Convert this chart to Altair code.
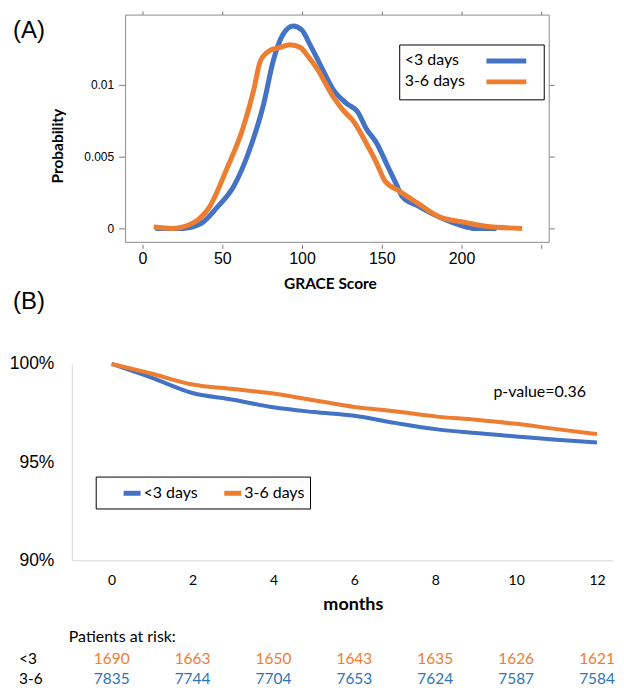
import altair as alt
import pandas as pd

# ---------------- Panel A: GRACE score distributions ----------------
groups = ["<3 days", "3-6 days"]
line_colors = ["#4472C4", "#ED7D31"]

grace_lt3_x = [8, 25, 36, 47, 57, 67.5, 76, 82, 88, 94.5, 100, 105, 111, 120, 128, 135, 140, 147, 153, 159, 163, 172, 182, 194.5, 203, 207, 222]
grace_lt3_y = [0.0, 0.0, 0.0003, 0.0015, 0.0029, 0.0056, 0.0087, 0.0117, 0.0135, 0.0141, 0.0138, 0.0128, 0.0115, 0.0096, 0.0087, 0.0081, 0.0070, 0.0059, 0.0045, 0.0031, 0.0022, 0.0016, 0.0010, 0.0004, 0.0001, 0.0, 0.0]

grace_36_x = [7, 19, 32, 42, 53, 63, 69.6, 74, 80, 86, 92.5, 99, 103, 109, 120, 126, 132, 140.5, 147, 152, 161, 172, 186, 203, 215, 238]
grace_36_y = [0.0001, 0.0, 0.0004, 0.0015, 0.0042, 0.0070, 0.0096, 0.0117, 0.0124, 0.0126, 0.0128, 0.0126, 0.0121, 0.0112, 0.0091, 0.0082, 0.0075, 0.0059, 0.0045, 0.0033, 0.0026, 0.0018, 0.0008, 0.0004, 0.00015, 0.0]

grace_ticks = [0, 50, 100, 150, 200, 250]
prob_ticks = [0, 0.005, 0.01]

# ---------------- Panel B: survival ----------------
months = list(range(13))
surv_lt3 = [100, 99.29, 98.52, 98.18, 97.79, 97.55, 97.36, 97.0, 96.68, 96.48, 96.31, 96.14, 96.0]
surv_36 = [100, 99.5, 98.95, 98.72, 98.49, 98.15, 97.81, 97.59, 97.33, 97.16, 96.95, 96.68, 96.43]
month_ticks = [0, 2, 4, 6, 8, 10, 12]
pct_ticks = [90, 95, 100]

risk_months = [0, 2, 4, 6, 8, 10, 12]
risk_lt3 = [1690, 1663, 1650, 1643, 1635, 1626, 1621]
risk_36 = [7835, 7744, 7704, 7653, 7624, 7587, 7584]
risk_colors = ["#ED7D31", "#2E75B6"]

SANS = "Liberation Sans"
HUM = "Lato"

# Panel A plot frame sits SHIFT px right of the shared column origin
SHIFT = 54
FRAME_W = 425
A_W = SHIFT + FRAME_W
A_H = 228

dens = pd.concat([
    pd.DataFrame({"score": grace_lt3_x, "prob": grace_lt3_y, "group": groups[0], "ord": 0}),
    pd.DataFrame({"score": grace_36_x, "prob": grace_36_y, "group": groups[1], "ord": 1}),
], ignore_index=True)

xA = alt.Scale(domain=[-10.625, 255], range=[SHIFT, A_W], nice=False, zero=False)
yA = alt.Scale(domain=[-0.000972, 0.014861], nice=False, zero=False)
colA = alt.Scale(domain=groups, range=line_colors)

x_bottom = alt.Axis(values=grace_ticks, orient="bottom", offset=2, tickSize=4, domain=False,
                    tickColor="#777777", labelFontSize=16, labelFont=SANS, labelPadding=2,
                    labelExpr="datum.value == 250 ? '' : datum.label",
                    title="GRACE Score", titleFont=HUM, titleFontSize=15.5, titleFontWeight="bold",
                    titlePadding=10, titleX=SHIFT + 205)
y_left = alt.Axis(values=prob_ticks, orient="left", offset=-SHIFT, tickSize=7, domain=False,
                  tickColor="#777777", labelFontSize=12, labelFont=SANS, labelPadding=5, format="~g",
                  title="Probability", titleFont=HUM, titleFontSize=15.5, titleFontWeight="bold",
                  titleX=-68, titleY=131, titleAngle=270, titleAlign="center", titleBaseline="middle")
x_top = alt.Axis(values=grace_ticks, orient="top", tickSize=4, domain=False, labels=False,
                 tickColor="#777777", title=None)
y_right = alt.Axis(values=prob_ticks, orient="right", tickSize=5, domain=False, labels=False,
                   tickColor="#777777", title=None)

one = pd.DataFrame({"k": [0]})
frameA = alt.Chart(one).mark_rect(fill="white", stroke="#8c8c8c", strokeWidth=1).encode(
    x=alt.value(SHIFT), x2=alt.value(A_W), y=alt.value(0), y2=alt.value(A_H))

linesA = alt.Chart(dens).mark_line(strokeWidth=5, interpolate="monotone").encode(
    x=alt.X("score:Q", scale=xA, axis=x_bottom),
    y=alt.Y("prob:Q", scale=yA, axis=y_left),
    color=alt.Color("group:N", scale=colA, legend=None),
    order="ord:Q",
    detail="group:N",
)
axesA = alt.Chart(dens).mark_line(strokeOpacity=0).encode(
    x=alt.X("score:Q", scale=xA, axis=x_top),
    y=alt.Y("prob:Q", scale=yA, axis=y_right),
    detail="group:N",
)

legA_layers = [
    alt.Chart(one).mark_rect(fill="white", stroke="black", strokeWidth=1).encode(
        x=alt.value(SHIFT + 275), x2=alt.value(SHIFT + 420), y=alt.value(30), y2=alt.value(85))
]
for i, (g, c) in enumerate(zip(groups, line_colors)):
    yy = 46 + 21 * i
    legA_layers.append(alt.Chart(one).mark_rule(strokeWidth=5, color=c).encode(
        x=alt.value(SHIFT + 362), x2=alt.value(SHIFT + 402), y=alt.value(yy)))
    legA_layers.append(alt.Chart(one).mark_text(align="left", baseline="middle", font=HUM,
                                                fontSize=16, color="black").encode(
        x=alt.value(SHIFT + 280), y=alt.value(yy - 1), text=alt.value(g)))

labelA = alt.Chart(one).mark_text(align="left", baseline="middle", font=SANS, fontSize=24,
                                  color="black").encode(x=alt.value(-59), y=alt.value(16),
                                                        text=alt.value("(A)"))
labelB = alt.Chart(one).mark_text(align="left", baseline="middle", font=SANS, fontSize=24,
                                  color="black").encode(x=alt.value(-59), y=alt.value(288),
                                                        text=alt.value("(B)"))

panelA = alt.layer(frameA, axesA, linesA, *legA_layers, labelA, labelB).resolve_axis(
    x="independent", y="independent").properties(width=A_W, height=A_H)

# ---------------- Panel B ----------------
surv = pd.concat([
    pd.DataFrame({"month": months, "surv": surv_lt3, "group": groups[0], "ord": 0}),
    pd.DataFrame({"month": months, "surv": surv_36, "group": groups[1], "ord": 1}),
], ignore_index=True)

xB = alt.Scale(domain=[-0.986, 12.395], nice=False, zero=False)
yB = alt.Scale(domain=[90, 100], nice=False, zero=False)
x_axB = alt.Axis(values=month_ticks, ticks=False, domainColor="#d9d9d9", labelFontSize=14,
                 labelFont=HUM, labelPadding=13, title="months", titleFont=HUM, titleFontSize=18,
                 titleFontWeight="bold", titlePadding=8, titleX=282)
y_axB = alt.Axis(values=pct_ticks, ticks=False, domainColor="#d9d9d9", labelFontSize=17.5,
                 labelFont=SANS, labelPadding=18, labelExpr="datum.value + '%'", title=None)
x_encB = alt.X("month:Q", scale=xB, axis=x_axB)

linesB = alt.Chart(surv).mark_line(strokeWidth=4, interpolate="monotone").encode(
    x=x_encB,
    y=alt.Y("surv:Q", scale=yB, axis=y_axB),
    color=alt.Color("group:N", scale=colA, legend=alt.Legend(
        orient="none", legendX=24, legendY=113, direction="horizontal", title=None,
        strokeColor="black", padding=5, symbolType="stroke", symbolStrokeWidth=5,
        symbolSize=290, symbolOffset=20, labelOffset=0, columnPadding=3,
        labelFont=HUM, labelFontSize=16, labelColor="black")),
    order="ord:Q",
    detail="group:N",
)

pval = alt.Chart(one).mark_text(align="left", baseline="middle", font=HUM, fontSize=16,
                                color="black").encode(x=alt.value(423), y=alt.value(28),
                                                      text=alt.value("p-value=0.36"))

ROW0, ROW1, ROW2 = 274, 296, 316
risk_df1 = pd.DataFrame({"month": risk_months, "n": risk_lt3})
risk_df2 = pd.DataFrame({"month": risk_months, "n": risk_36})
risk1 = alt.Chart(risk_df1).mark_text(font=HUM, fontSize=15.5, color=risk_colors[0],
                                      baseline="middle").encode(
    x=x_encB, y=alt.value(ROW1), text="n:Q")
risk2 = alt.Chart(risk_df2).mark_text(font=HUM, fontSize=15.5, color=risk_colors[1],
                                      baseline="middle").encode(
    x=x_encB, y=alt.value(ROW2), text="n:Q")
risk_head = alt.Chart(one).mark_text(align="left", baseline="middle", font=HUM, fontSize=16,
                                     color="black").encode(x=alt.value(-3), y=alt.value(ROW0),
                                                           text=alt.value("Patients at risk:"))
row1 = alt.Chart(one).mark_text(align="left", baseline="middle", font=HUM, fontSize=15.5,
                                color="black").encode(x=alt.value(-53), y=alt.value(ROW1),
                                                      text=alt.value("<3"))
row2 = alt.Chart(one).mark_text(align="left", baseline="middle", font=HUM, fontSize=15.5,
                                color="black").encode(x=alt.value(-53), y=alt.value(ROW2),
                                                      text=alt.value("3-6"))

panelB = alt.layer(linesB, pval, risk1, risk2, risk_head, row1, row2).properties(
    width=543, height=197)

chart = alt.vconcat(panelA, panelB, spacing=39).resolve_scale(color="independent").properties(
    padding={"left": 0, "top": 1, "right": 0, "bottom": 0}
).configure_view(stroke="transparent").configure_axis(grid=False, labelColor="black",
                                                      titleColor="black")

chart.save("out.html", embed_options={"renderer": "svg", "actions": False})
